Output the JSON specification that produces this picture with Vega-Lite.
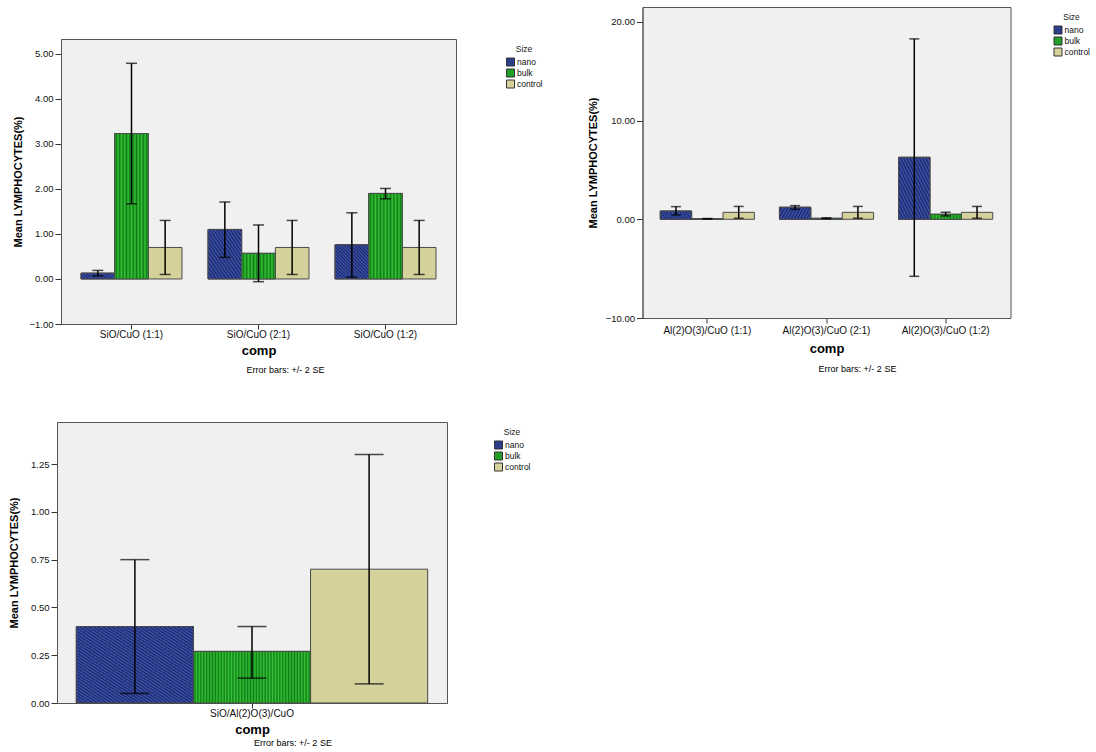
{
"$schema": "https://vega.github.io/schema/vega-lite/v6.json",
"padding": {"left": 8, "top": 6, "right": 0, "bottom": 0},
"spacing": 36.5,
"background": "white",
"resolve": {"scale": {"fill": "independent", "xOffset": "independent"}, "legend": {"fill": "independent"}},
"datasets": {
"p1": [
{"comp":"SiO/CuO (1:1)","Size":"nano","mean":0.13,"lo":0.07,"hi":0.19},
{"comp":"SiO/CuO (1:1)","Size":"bulk","mean":3.23,"lo":1.67,"hi":4.79},
{"comp":"SiO/CuO (1:1)","Size":"control","mean":0.70,"lo":0.10,"hi":1.30},
{"comp":"SiO/CuO (2:1)","Size":"nano","mean":1.10,"lo":0.48,"hi":1.71},
{"comp":"SiO/CuO (2:1)","Size":"bulk","mean":0.57,"lo":-0.06,"hi":1.20},
{"comp":"SiO/CuO (2:1)","Size":"control","mean":0.70,"lo":0.10,"hi":1.30},
{"comp":"SiO/CuO (1:2)","Size":"nano","mean":0.76,"lo":0.04,"hi":1.47},
{"comp":"SiO/CuO (1:2)","Size":"bulk","mean":1.90,"lo":1.78,"hi":2.01},
{"comp":"SiO/CuO (1:2)","Size":"control","mean":0.70,"lo":0.10,"hi":1.30}
],
"p2": [
{"comp":"Al(2)O(3)/CuO (1:1)","Size":"nano","mean":0.84,"lo":0.44,"hi":1.28},
{"comp":"Al(2)O(3)/CuO (1:1)","Size":"bulk","mean":0.05,"lo":0.02,"hi":0.08},
{"comp":"Al(2)O(3)/CuO (1:1)","Size":"control","mean":0.70,"lo":0.10,"hi":1.30},
{"comp":"Al(2)O(3)/CuO (2:1)","Size":"nano","mean":1.22,"lo":1.01,"hi":1.38},
{"comp":"Al(2)O(3)/CuO (2:1)","Size":"bulk","mean":0.10,"lo":0.05,"hi":0.15},
{"comp":"Al(2)O(3)/CuO (2:1)","Size":"control","mean":0.70,"lo":0.10,"hi":1.30},
{"comp":"Al(2)O(3)/CuO (1:2)","Size":"nano","mean":6.28,"lo":-5.78,"hi":18.27},
{"comp":"Al(2)O(3)/CuO (1:2)","Size":"bulk","mean":0.51,"lo":0.34,"hi":0.71},
{"comp":"Al(2)O(3)/CuO (1:2)","Size":"control","mean":0.70,"lo":0.10,"hi":1.30}
],
"p3": [
{"comp":"SiO/Al(2)O(3)/CuO","Size":"nano","mean":0.40,"lo":0.05,"hi":0.75},
{"comp":"SiO/Al(2)O(3)/CuO","Size":"bulk","mean":0.27,"lo":0.13,"hi":0.40},
{"comp":"SiO/Al(2)O(3)/CuO","Size":"control","mean":0.70,"lo":0.10,"hi":1.30}
]
},
"config": {
"font": "Liberation Sans",
"view": {"fill": "#f0f0f0", "stroke": "#555555", "strokeWidth": 1},
"axis": {"grid": false, "labelFontSize": 9.5, "labelColor": "#111111", "labelFont": "Liberation Sans", "titleFont": "Liberation Sans", "titleFontWeight": "bold", "titleColor": "#000000", "tickColor": "#333333", "domainColor": "#555555", "domainWidth": 1},
"axisX": {"labelAngle": 0, "tickSize": 5, "labelPadding": 0, "labelFontSize": 10, "titlePadding": 5, "titleFontSize": 13},
"axisY": {"tickSize": 6, "labelPadding": 2, "titlePadding": 5, "titleFontSize": 11},
"legend": {"orient": "right", "offset": 45, "padding": 6, "titleFontSize": 8.5, "titleFontWeight": "normal", "titleAnchor": "middle", "titleColor": "#222222", "labelFontSize": 8.5, "labelColor": "#111111", "symbolType": "square", "symbolSize": 64, "symbolStrokeColor": "#333333", "symbolStrokeWidth": 1, "rowPadding": -4, "labelOffset": 2, "titlePadding": 4},
"title": {"orient": "bottom", "fontSize": 9, "fontWeight": "normal", "color": "#000000", "anchor": "middle", "frame": "group", "offset": 9}
},
"hconcat": [
{"spacing": 45, "resolve": {"scale": {"fill": "independent", "xOffset": "independent"}, "legend": {"fill": "independent"}}, "vconcat": [
 {"spacing": 0, "resolve": {"scale": {"fill": "independent", "xOffset": "independent"}, "legend": {"fill": "independent"}}, "vconcat": [
  {"width": 1, "height": 31, "data": {"values": []}, "mark": "rule", "encoding": {}, "view": {"fill": "#ffffff", "stroke": null}},
  {"spacing": -46, "resolve": {"scale": {"fill": "independent", "xOffset": "independent"}, "legend": {"fill": "independent"}}, "hconcat": [
   {"width": 1, "height": 1, "data": {"values": []}, "mark": "rule", "encoding": {}, "view": {"fill": "#ffffff", "stroke": null}},
   {"width": 395, "height": 285, "data": {"name": "p1"},
    "title": {"text": "Error bars: +/- 2 SE", "dx": 27},
    "encoding": {
     "x": {"field": "comp", "type": "nominal", "sort": ["SiO/CuO (1:1)","SiO/CuO (2:1)","SiO/CuO (1:2)"], "scale": {"paddingInner": 0.205, "paddingOuter": 0.1575}, "axis": {"title": "comp"}},
     "xOffset": {"field": "Size", "type": "nominal", "sort": ["nano","bulk","control"], "scale": {"domain": ["nano","bulk","control"], "paddingInner": 0, "paddingOuter": 0}}
    },
    "layer": [
     {"mark": {"type": "bar", "stroke": "#4a4a4a", "strokeWidth": 1},
      "encoding": {"y": {"field": "mean", "type": "quantitative", "scale": {"domain": [-1, 5.33], "nice": false, "zero": false}, "axis": {"values": [-1,0,1,2,3,4,5], "format": ".2f", "title": "Mean LYMPHOCYTES(%)", "titlePadding": 5}}, "y2": {"datum": 0},
       "fill": {"field": "Size", "type": "nominal", "scale": {"domain": ["nano","bulk","control"], "range": ["#2c3d8a","#229f26","#d5d19b"]}, "legend": {"title": "Size", "offset": 44}}}},
     {"transform": [{"filter": "datum.Size == 'nano'"}],
      "mark": {"type": "bar", "stroke": "#4a4a4a", "strokeWidth": 1, "fill": {"gradient": "linear", "x1": 0, "y1": 1, "x2": 1, "y2": 0, "stops": [{"offset":0,"color":"#3d55b5"},{"offset":0.025,"color":"#1c2660"},{"offset":0.05,"color":"#3d55b5"},{"offset":0.075,"color":"#1c2660"},{"offset":0.1,"color":"#3d55b5"},{"offset":0.125,"color":"#1c2660"},{"offset":0.15,"color":"#3d55b5"},{"offset":0.175,"color":"#1c2660"},{"offset":0.2,"color":"#3d55b5"},{"offset":0.225,"color":"#1c2660"},{"offset":0.25,"color":"#3d55b5"},{"offset":0.275,"color":"#1c2660"},{"offset":0.3,"color":"#3d55b5"},{"offset":0.325,"color":"#1c2660"},{"offset":0.35,"color":"#3d55b5"},{"offset":0.375,"color":"#1c2660"},{"offset":0.4,"color":"#3d55b5"},{"offset":0.425,"color":"#1c2660"},{"offset":0.45,"color":"#3d55b5"},{"offset":0.475,"color":"#1c2660"},{"offset":0.5,"color":"#3d55b5"},{"offset":0.525,"color":"#1c2660"},{"offset":0.55,"color":"#3d55b5"},{"offset":0.575,"color":"#1c2660"},{"offset":0.6,"color":"#3d55b5"},{"offset":0.625,"color":"#1c2660"},{"offset":0.65,"color":"#3d55b5"},{"offset":0.675,"color":"#1c2660"},{"offset":0.7,"color":"#3d55b5"},{"offset":0.725,"color":"#1c2660"},{"offset":0.75,"color":"#3d55b5"},{"offset":0.775,"color":"#1c2660"},{"offset":0.8,"color":"#3d55b5"},{"offset":0.825,"color":"#1c2660"},{"offset":0.85,"color":"#3d55b5"},{"offset":0.875,"color":"#1c2660"},{"offset":0.9,"color":"#3d55b5"},{"offset":0.925,"color":"#1c2660"},{"offset":0.95,"color":"#3d55b5"},{"offset":0.975,"color":"#1c2660"},{"offset":1,"color":"#3d55b5"}]}},
      "encoding": {"y": {"field": "mean", "type": "quantitative", "scale": {"domain": [-1, 5.33], "nice": false, "zero": false}}, "y2": {"datum": 0}}},
     {"transform": [{"filter": "datum.Size == 'bulk'"}],
      "mark": {"type": "bar", "stroke": "#4a4a4a", "strokeWidth": 1, "fill": {"gradient": "linear", "x1": 0, "y1": 0, "x2": 1, "y2": 0, "stops": [{"offset":0,"color":"#35c435"},{"offset":0.05,"color":"#107a18"},{"offset":0.1,"color":"#35c435"},{"offset":0.15,"color":"#107a18"},{"offset":0.2,"color":"#35c435"},{"offset":0.25,"color":"#107a18"},{"offset":0.3,"color":"#35c435"},{"offset":0.35,"color":"#107a18"},{"offset":0.4,"color":"#35c435"},{"offset":0.45,"color":"#107a18"},{"offset":0.5,"color":"#35c435"},{"offset":0.55,"color":"#107a18"},{"offset":0.6,"color":"#35c435"},{"offset":0.65,"color":"#107a18"},{"offset":0.7,"color":"#35c435"},{"offset":0.75,"color":"#107a18"},{"offset":0.8,"color":"#35c435"},{"offset":0.85,"color":"#107a18"},{"offset":0.9,"color":"#35c435"},{"offset":0.95,"color":"#107a18"},{"offset":1,"color":"#35c435"}]}},
      "encoding": {"y": {"field": "mean", "type": "quantitative", "scale": {"domain": [-1, 5.33], "nice": false, "zero": false}}, "y2": {"datum": 0}}},
     {"mark": {"type": "rule", "color": "#000000", "strokeWidth": 1.5},
      "encoding": {"y": {"field": "lo", "type": "quantitative", "scale": {"domain": [-1, 5.33], "nice": false, "zero": false}}, "y2": {"field": "hi"}}},
     {"mark": {"type": "tick", "color": "#000000", "thickness": 1.5, "size": 11},
      "encoding": {"y": {"field": "lo", "type": "quantitative", "scale": {"domain": [-1, 5.33], "nice": false, "zero": false}}}},
     {"mark": {"type": "tick", "color": "#000000", "thickness": 1.5, "size": 11},
      "encoding": {"y": {"field": "hi", "type": "quantitative", "scale": {"domain": [-1, 5.33], "nice": false, "zero": false}}}}
    ]
   }
  ]}
 ]},
 {"width": 390, "height": 281, "data": {"name": "p3"},
  "title": {"text": "Error bars: +/- 2 SE", "dx": 41, "offset": 3},
  "encoding": {
   "x": {"field": "comp", "type": "nominal", "scale": {"paddingInner": 0, "paddingOuter": 0.055}, "axis": {"title": "comp"}},
   "xOffset": {"field": "Size", "type": "nominal", "sort": ["nano","bulk","control"], "scale": {"domain": ["nano","bulk","control"], "paddingInner": 0, "paddingOuter": 0}}
  },
  "layer": [
   {"mark": {"type": "bar", "stroke": "#4a4a4a", "strokeWidth": 1},
    "encoding": {"y": {"field": "mean", "type": "quantitative", "scale": {"domain": [0, 1.47], "nice": false, "zero": false}, "axis": {"values": [0,0.25,0.5,0.75,1,1.25], "format": ".2f", "title": "Mean LYMPHOCYTES(%)", "titlePadding": 11}}, "y2": {"datum": 0},
     "fill": {"field": "Size", "type": "nominal", "scale": {"domain": ["nano","bulk","control"], "range": ["#2c3d8a","#229f26","#d5d19b"]}, "legend": {"title": "Size", "offset": 41}}}},
   {"transform": [{"filter": "datum.Size == 'nano'"}],
    "mark": {"type": "bar", "stroke": "#4a4a4a", "strokeWidth": 1, "fill": {"gradient": "linear", "x1": 0, "y1": 1, "x2": 1, "y2": 0, "stops": [{"offset":0,"color":"#3d55b5"},{"offset":0.01,"color":"#1c2660"},{"offset":0.02,"color":"#3d55b5"},{"offset":0.03,"color":"#1c2660"},{"offset":0.04,"color":"#3d55b5"},{"offset":0.05,"color":"#1c2660"},{"offset":0.06,"color":"#3d55b5"},{"offset":0.07,"color":"#1c2660"},{"offset":0.08,"color":"#3d55b5"},{"offset":0.09,"color":"#1c2660"},{"offset":0.1,"color":"#3d55b5"},{"offset":0.11,"color":"#1c2660"},{"offset":0.12,"color":"#3d55b5"},{"offset":0.13,"color":"#1c2660"},{"offset":0.14,"color":"#3d55b5"},{"offset":0.15,"color":"#1c2660"},{"offset":0.16,"color":"#3d55b5"},{"offset":0.17,"color":"#1c2660"},{"offset":0.18,"color":"#3d55b5"},{"offset":0.19,"color":"#1c2660"},{"offset":0.2,"color":"#3d55b5"},{"offset":0.21,"color":"#1c2660"},{"offset":0.22,"color":"#3d55b5"},{"offset":0.23,"color":"#1c2660"},{"offset":0.24,"color":"#3d55b5"},{"offset":0.25,"color":"#1c2660"},{"offset":0.26,"color":"#3d55b5"},{"offset":0.27,"color":"#1c2660"},{"offset":0.28,"color":"#3d55b5"},{"offset":0.29,"color":"#1c2660"},{"offset":0.3,"color":"#3d55b5"},{"offset":0.31,"color":"#1c2660"},{"offset":0.32,"color":"#3d55b5"},{"offset":0.33,"color":"#1c2660"},{"offset":0.34,"color":"#3d55b5"},{"offset":0.35,"color":"#1c2660"},{"offset":0.36,"color":"#3d55b5"},{"offset":0.37,"color":"#1c2660"},{"offset":0.38,"color":"#3d55b5"},{"offset":0.39,"color":"#1c2660"},{"offset":0.4,"color":"#3d55b5"},{"offset":0.41,"color":"#1c2660"},{"offset":0.42,"color":"#3d55b5"},{"offset":0.43,"color":"#1c2660"},{"offset":0.44,"color":"#3d55b5"},{"offset":0.45,"color":"#1c2660"},{"offset":0.46,"color":"#3d55b5"},{"offset":0.47,"color":"#1c2660"},{"offset":0.48,"color":"#3d55b5"},{"offset":0.49,"color":"#1c2660"},{"offset":0.5,"color":"#3d55b5"},{"offset":0.51,"color":"#1c2660"},{"offset":0.52,"color":"#3d55b5"},{"offset":0.53,"color":"#1c2660"},{"offset":0.54,"color":"#3d55b5"},{"offset":0.55,"color":"#1c2660"},{"offset":0.56,"color":"#3d55b5"},{"offset":0.57,"color":"#1c2660"},{"offset":0.58,"color":"#3d55b5"},{"offset":0.59,"color":"#1c2660"},{"offset":0.6,"color":"#3d55b5"},{"offset":0.61,"color":"#1c2660"},{"offset":0.62,"color":"#3d55b5"},{"offset":0.63,"color":"#1c2660"},{"offset":0.64,"color":"#3d55b5"},{"offset":0.65,"color":"#1c2660"},{"offset":0.66,"color":"#3d55b5"},{"offset":0.67,"color":"#1c2660"},{"offset":0.68,"color":"#3d55b5"},{"offset":0.69,"color":"#1c2660"},{"offset":0.7,"color":"#3d55b5"},{"offset":0.71,"color":"#1c2660"},{"offset":0.72,"color":"#3d55b5"},{"offset":0.73,"color":"#1c2660"},{"offset":0.74,"color":"#3d55b5"},{"offset":0.75,"color":"#1c2660"},{"offset":0.76,"color":"#3d55b5"},{"offset":0.77,"color":"#1c2660"},{"offset":0.78,"color":"#3d55b5"},{"offset":0.79,"color":"#1c2660"},{"offset":0.8,"color":"#3d55b5"},{"offset":0.81,"color":"#1c2660"},{"offset":0.82,"color":"#3d55b5"},{"offset":0.83,"color":"#1c2660"},{"offset":0.84,"color":"#3d55b5"},{"offset":0.85,"color":"#1c2660"},{"offset":0.86,"color":"#3d55b5"},{"offset":0.87,"color":"#1c2660"},{"offset":0.88,"color":"#3d55b5"},{"offset":0.89,"color":"#1c2660"},{"offset":0.9,"color":"#3d55b5"},{"offset":0.91,"color":"#1c2660"},{"offset":0.92,"color":"#3d55b5"},{"offset":0.93,"color":"#1c2660"},{"offset":0.94,"color":"#3d55b5"},{"offset":0.95,"color":"#1c2660"},{"offset":0.96,"color":"#3d55b5"},{"offset":0.97,"color":"#1c2660"},{"offset":0.98,"color":"#3d55b5"},{"offset":0.99,"color":"#1c2660"},{"offset":1,"color":"#3d55b5"}]}},
    "encoding": {"y": {"field": "mean", "type": "quantitative", "scale": {"domain": [0, 1.47], "nice": false, "zero": false}}, "y2": {"datum": 0}}},
   {"transform": [{"filter": "datum.Size == 'bulk'"}],
    "mark": {"type": "bar", "stroke": "#4a4a4a", "strokeWidth": 1, "fill": {"gradient": "linear", "x1": 0, "y1": 0, "x2": 1, "y2": 0, "stops": [{"offset":0,"color":"#35c435"},{"offset":0.0125,"color":"#107a18"},{"offset":0.025,"color":"#35c435"},{"offset":0.0375,"color":"#107a18"},{"offset":0.05,"color":"#35c435"},{"offset":0.0625,"color":"#107a18"},{"offset":0.075,"color":"#35c435"},{"offset":0.0875,"color":"#107a18"},{"offset":0.1,"color":"#35c435"},{"offset":0.1125,"color":"#107a18"},{"offset":0.125,"color":"#35c435"},{"offset":0.1375,"color":"#107a18"},{"offset":0.15,"color":"#35c435"},{"offset":0.1625,"color":"#107a18"},{"offset":0.175,"color":"#35c435"},{"offset":0.1875,"color":"#107a18"},{"offset":0.2,"color":"#35c435"},{"offset":0.2125,"color":"#107a18"},{"offset":0.225,"color":"#35c435"},{"offset":0.2375,"color":"#107a18"},{"offset":0.25,"color":"#35c435"},{"offset":0.2625,"color":"#107a18"},{"offset":0.275,"color":"#35c435"},{"offset":0.2875,"color":"#107a18"},{"offset":0.3,"color":"#35c435"},{"offset":0.3125,"color":"#107a18"},{"offset":0.325,"color":"#35c435"},{"offset":0.3375,"color":"#107a18"},{"offset":0.35,"color":"#35c435"},{"offset":0.3625,"color":"#107a18"},{"offset":0.375,"color":"#35c435"},{"offset":0.3875,"color":"#107a18"},{"offset":0.4,"color":"#35c435"},{"offset":0.4125,"color":"#107a18"},{"offset":0.425,"color":"#35c435"},{"offset":0.4375,"color":"#107a18"},{"offset":0.45,"color":"#35c435"},{"offset":0.4625,"color":"#107a18"},{"offset":0.475,"color":"#35c435"},{"offset":0.4875,"color":"#107a18"},{"offset":0.5,"color":"#35c435"},{"offset":0.5125,"color":"#107a18"},{"offset":0.525,"color":"#35c435"},{"offset":0.5375,"color":"#107a18"},{"offset":0.55,"color":"#35c435"},{"offset":0.5625,"color":"#107a18"},{"offset":0.575,"color":"#35c435"},{"offset":0.5875,"color":"#107a18"},{"offset":0.6,"color":"#35c435"},{"offset":0.6125,"color":"#107a18"},{"offset":0.625,"color":"#35c435"},{"offset":0.6375,"color":"#107a18"},{"offset":0.65,"color":"#35c435"},{"offset":0.6625,"color":"#107a18"},{"offset":0.675,"color":"#35c435"},{"offset":0.6875,"color":"#107a18"},{"offset":0.7,"color":"#35c435"},{"offset":0.7125,"color":"#107a18"},{"offset":0.725,"color":"#35c435"},{"offset":0.7375,"color":"#107a18"},{"offset":0.75,"color":"#35c435"},{"offset":0.7625,"color":"#107a18"},{"offset":0.775,"color":"#35c435"},{"offset":0.7875,"color":"#107a18"},{"offset":0.8,"color":"#35c435"},{"offset":0.8125,"color":"#107a18"},{"offset":0.825,"color":"#35c435"},{"offset":0.8375,"color":"#107a18"},{"offset":0.85,"color":"#35c435"},{"offset":0.8625,"color":"#107a18"},{"offset":0.875,"color":"#35c435"},{"offset":0.8875,"color":"#107a18"},{"offset":0.9,"color":"#35c435"},{"offset":0.9125,"color":"#107a18"},{"offset":0.925,"color":"#35c435"},{"offset":0.9375,"color":"#107a18"},{"offset":0.95,"color":"#35c435"},{"offset":0.9625,"color":"#107a18"},{"offset":0.975,"color":"#35c435"},{"offset":0.9875,"color":"#107a18"},{"offset":1,"color":"#35c435"}]}},
    "encoding": {"y": {"field": "mean", "type": "quantitative", "scale": {"domain": [0, 1.47], "nice": false, "zero": false}}, "y2": {"datum": 0}}},
   {"mark": {"type": "rule", "color": "#000000", "strokeWidth": 1.5},
    "encoding": {"y": {"field": "lo", "type": "quantitative", "scale": {"domain": [0, 1.47], "nice": false, "zero": false}}, "y2": {"field": "hi"}}},
   {"mark": {"type": "tick", "color": "#000000", "thickness": 1.5, "size": 29},
    "encoding": {"y": {"field": "lo", "type": "quantitative", "scale": {"domain": [0, 1.47], "nice": false, "zero": false}}}},
   {"mark": {"type": "tick", "color": "#000000", "thickness": 1.5, "size": 29},
    "encoding": {"y": {"field": "hi", "type": "quantitative", "scale": {"domain": [0, 1.47], "nice": false, "zero": false}}}}
  ]
 }
]},
{"width": 368, "height": 311, "data": {"name": "p2"},
 "title": {"text": "Error bars: +/- 2 SE", "dx": 31, "offset": 10},
 "encoding": {
  "x": {"field": "comp", "type": "nominal", "sort": ["Al(2)O(3)/CuO (1:1)","Al(2)O(3)/CuO (2:1)","Al(2)O(3)/CuO (1:2)"], "scale": {"paddingInner": 0.21, "paddingOuter": 0.149}, "axis": {"title": "comp", "labelPadding": 2, "titlePadding": 7}},
  "xOffset": {"field": "Size", "type": "nominal", "sort": ["nano","bulk","control"], "scale": {"domain": ["nano","bulk","control"], "paddingInner": 0, "paddingOuter": 0}}
 },
 "layer": [
  {"mark": {"type": "bar", "stroke": "#4a4a4a", "strokeWidth": 1},
   "encoding": {"y": {"field": "mean", "type": "quantitative", "scale": {"domain": [-10, 21.5], "nice": false, "zero": false}, "axis": {"values": [-10,0,10,20], "format": ".2f", "title": "Mean LYMPHOCYTES(%)", "titlePadding": 7}}, "y2": {"datum": 0},
    "fill": {"field": "Size", "type": "nominal", "scale": {"domain": ["nano","bulk","control"], "range": ["#2c3d8a","#229f26","#d5d19b"]}, "legend": {"title": "Size", "offset": 37}}}},
  {"transform": [{"filter": "datum.Size == 'nano'"}],
   "mark": {"type": "bar", "stroke": "#4a4a4a", "strokeWidth": 1, "fill": {"gradient": "linear", "x1": 0, "y1": 1, "x2": 1, "y2": 0, "stops": [{"offset":0,"color":"#3d55b5"},{"offset":0.025,"color":"#1c2660"},{"offset":0.05,"color":"#3d55b5"},{"offset":0.075,"color":"#1c2660"},{"offset":0.1,"color":"#3d55b5"},{"offset":0.125,"color":"#1c2660"},{"offset":0.15,"color":"#3d55b5"},{"offset":0.175,"color":"#1c2660"},{"offset":0.2,"color":"#3d55b5"},{"offset":0.225,"color":"#1c2660"},{"offset":0.25,"color":"#3d55b5"},{"offset":0.275,"color":"#1c2660"},{"offset":0.3,"color":"#3d55b5"},{"offset":0.325,"color":"#1c2660"},{"offset":0.35,"color":"#3d55b5"},{"offset":0.375,"color":"#1c2660"},{"offset":0.4,"color":"#3d55b5"},{"offset":0.425,"color":"#1c2660"},{"offset":0.45,"color":"#3d55b5"},{"offset":0.475,"color":"#1c2660"},{"offset":0.5,"color":"#3d55b5"},{"offset":0.525,"color":"#1c2660"},{"offset":0.55,"color":"#3d55b5"},{"offset":0.575,"color":"#1c2660"},{"offset":0.6,"color":"#3d55b5"},{"offset":0.625,"color":"#1c2660"},{"offset":0.65,"color":"#3d55b5"},{"offset":0.675,"color":"#1c2660"},{"offset":0.7,"color":"#3d55b5"},{"offset":0.725,"color":"#1c2660"},{"offset":0.75,"color":"#3d55b5"},{"offset":0.775,"color":"#1c2660"},{"offset":0.8,"color":"#3d55b5"},{"offset":0.825,"color":"#1c2660"},{"offset":0.85,"color":"#3d55b5"},{"offset":0.875,"color":"#1c2660"},{"offset":0.9,"color":"#3d55b5"},{"offset":0.925,"color":"#1c2660"},{"offset":0.95,"color":"#3d55b5"},{"offset":0.975,"color":"#1c2660"},{"offset":1,"color":"#3d55b5"}]}},
   "encoding": {"y": {"field": "mean", "type": "quantitative", "scale": {"domain": [-10, 21.5], "nice": false, "zero": false}}, "y2": {"datum": 0}}},
  {"transform": [{"filter": "datum.Size == 'bulk'"}],
   "mark": {"type": "bar", "stroke": "#4a4a4a", "strokeWidth": 1, "fill": {"gradient": "linear", "x1": 0, "y1": 0, "x2": 1, "y2": 0, "stops": [{"offset":0,"color":"#35c435"},{"offset":0.05,"color":"#107a18"},{"offset":0.1,"color":"#35c435"},{"offset":0.15,"color":"#107a18"},{"offset":0.2,"color":"#35c435"},{"offset":0.25,"color":"#107a18"},{"offset":0.3,"color":"#35c435"},{"offset":0.35,"color":"#107a18"},{"offset":0.4,"color":"#35c435"},{"offset":0.45,"color":"#107a18"},{"offset":0.5,"color":"#35c435"},{"offset":0.55,"color":"#107a18"},{"offset":0.6,"color":"#35c435"},{"offset":0.65,"color":"#107a18"},{"offset":0.7,"color":"#35c435"},{"offset":0.75,"color":"#107a18"},{"offset":0.8,"color":"#35c435"},{"offset":0.85,"color":"#107a18"},{"offset":0.9,"color":"#35c435"},{"offset":0.95,"color":"#107a18"},{"offset":1,"color":"#35c435"}]}},
   "encoding": {"y": {"field": "mean", "type": "quantitative", "scale": {"domain": [-10, 21.5], "nice": false, "zero": false}}, "y2": {"datum": 0}}},
  {"mark": {"type": "rule", "color": "#000000", "strokeWidth": 1.5},
   "encoding": {"y": {"field": "lo", "type": "quantitative", "scale": {"domain": [-10, 21.5], "nice": false, "zero": false}}, "y2": {"field": "hi"}}},
  {"mark": {"type": "tick", "color": "#000000", "thickness": 1.5, "size": 10},
   "encoding": {"y": {"field": "lo", "type": "quantitative", "scale": {"domain": [-10, 21.5], "nice": false, "zero": false}}}},
  {"mark": {"type": "tick", "color": "#000000", "thickness": 1.5, "size": 10},
   "encoding": {"y": {"field": "hi", "type": "quantitative", "scale": {"domain": [-10, 21.5], "nice": false, "zero": false}}}}
 ]
}
]
}
